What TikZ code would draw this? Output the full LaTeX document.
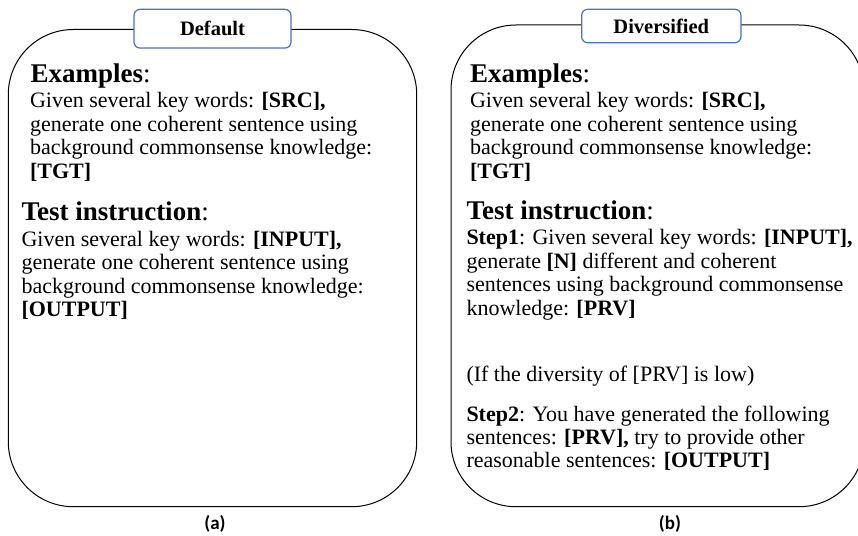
\documentclass[tikz,border=0pt]{standalone}
\usepackage{fontspec}
\setmainfont{Liberation Serif}
\newfontfamily\capfont{Carlito}
\definecolor{tabblue}{RGB}{68,114,196}
\begin{document}
\begin{tikzpicture}[x=1pt,y=-1pt,
  body/.style={anchor=base west, inner sep=0pt, outer sep=0pt, font=\fontsize{22}{24}\selectfont},
  head/.style={anchor=base west, inner sep=0pt, outer sep=0pt, font=\fontsize{27}{28}\selectfont},
  panel/.style={draw=black, line width=1pt, rounded corners=65pt},
  tabbox/.style={draw=tabblue, fill=white, line width=1.2pt, rounded corners=6pt, inner sep=0pt, font=\fontsize{20.5}{21}\selectfont\bfseries},
  caplabel/.style={inner sep=0pt, font=\capfont\fontsize{19}{20}\selectfont\bfseries}]
\useasboundingbox (0,0) rectangle (858,535);
\begin{scope}
\clip (0,0) rectangle (858,535);
\draw[panel] (8.3,29.5) rectangle (416.7,506.7);
\draw[panel] (451,25) rectangle (864,506.7);
\end{scope}
% tabs
\node[tabbox, minimum width=157pt, minimum height=38.7pt] (tabA) at (212.5,28.7) {Default};
\node[tabbox, minimum width=159.3pt, minimum height=33.4pt] (tabB) at (661.3,26) {Diversified};
% left panel
\node[head] (a1) at (30.5,82) {\textbf{Examples}:};
\node[body] (a2) at (30,107.5) {Given several key words: \textbf{[SRC],}};
\node[body] (a3) at (30,131) {generate one coherent sentence using};
\node[body] (a4) at (30,154.5) {background commonsense knowledge:};
\node[body] (a5) at (30,178) {\textbf{[TGT]}};
\node[head] (a6) at (21.5,220) {\textbf{Test instruction}:};
\node[body] (a7) at (21.5,246) {Given several key words: \textbf{[INPUT],}};
\node[body] (a8) at (21.5,269.5) {generate one coherent sentence using};
\node[body] (a9) at (21.5,293) {background commonsense knowledge:};
\node[body] (a10) at (21.5,316.5) {\textbf{[OUTPUT]}};
% right panel
\node[head] (b1) at (470,82) {\textbf{Examples}:};
\node[body] (b2) at (470,107.5) {Given several key words: \textbf{[SRC],}};
\node[body] (b3) at (470,131) {generate one coherent sentence using};
\node[body] (b4) at (470,154.5) {background commonsense knowledge:};
\node[body] (b5) at (470,178) {\textbf{[TGT]}};
\node[head] (b6) at (466.5,219.5) {\textbf{Test instruction}:};
\node[body] (b7) at (466.5,244) {\textbf{Step1}: Given several key words: \textbf{[INPUT],}};
\node[body] (b8) at (466.5,268) {generate \textbf{[N]} different and coherent};
\node[body] (b9) at (466.5,291.5) {sentences using background commonsense};
\node[body] (b10) at (466.5,315) {knowledge: \textbf{[PRV]}};
\node[body] (b11) at (466.5,381) {(If the diversity of [PRV] is low)};
\node[body] (b12) at (466.5,421) {\textbf{Step2}: You have generated the following};
\node[body] (b13) at (466.5,444.5) {sentences: \textbf{[PRV],} try to provide other};
\node[body] (b14) at (466.5,467.5) {reasonable sentences: \textbf{[OUTPUT]}};
% captions
\node[caplabel] (capA) at (215,524) {(a)};
\node[caplabel] (capB) at (670,524) {(b)};
\end{tikzpicture}
\end{document}
